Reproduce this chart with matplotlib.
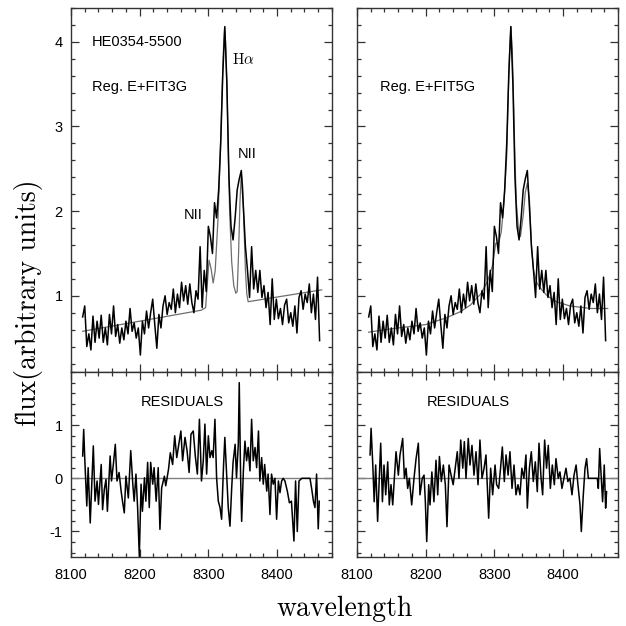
import numpy as np
import matplotlib
matplotlib.use('Agg')
import matplotlib.pyplot as plt
from matplotlib.ticker import MultipleLocator

plt.rcParams['font.family'] = ['Liberation Sans', 'DejaVu Sans']
plt.rcParams['axes.unicode_minus'] = False
plt.rcParams['mathtext.fontset'] = 'cm'

# observed spectrum (same in both top panels), 3 A sampling from 8117
wave = np.arange(8117, 8463, 3)
flux = [0.75, 0.88, 0.40, 0.55, 0.36, 0.76, 0.45, 0.70, 0.50, 0.77,
        0.45, 0.62, 0.42, 0.78, 0.55, 0.88, 0.52, 0.66, 0.44, 0.62,
        0.48, 0.70, 0.55, 0.85, 0.58, 0.68, 0.50, 0.62, 0.30, 0.70,
        0.55, 0.82, 0.62, 0.80, 0.96, 0.66, 0.38, 0.78, 0.62, 0.88,
        1.00, 0.78, 0.92, 0.84, 1.08, 0.80, 1.02, 0.86, 1.16, 0.94,
        1.12, 0.90, 1.14, 0.92, 0.80, 1.06, 0.96, 1.58, 0.86, 1.30,
        1.05, 1.82, 1.70, 1.50, 2.10, 1.92, 2.25, 2.80, 3.62, 4.18,
        3.50, 2.40, 1.82, 1.66, 1.92, 2.25, 2.38, 2.48, 2.05, 1.58,
        1.30, 0.98, 1.58, 1.08, 1.30, 1.04, 1.30, 0.98, 1.12, 0.86,
        1.04, 0.66, 1.20, 0.72, 0.96, 0.73, 0.85, 0.66, 0.89, 0.96,
        0.68, 0.80, 0.64, 0.88, 0.56, 0.98, 1.06, 0.84, 1.02, 0.92,
        1.14, 0.80, 1.02, 0.72, 1.22, 0.47]

# fit with 3 gaussians (left)
fit3_wave = [8117, 8200, 8290, 8296, 8299, 8301, 8304, 8307, 8310, 8314,
             8317, 8320, 8322, 8323.5, 8325, 8327, 8329, 8331, 8334, 8337,
             8340, 8342, 8344, 8346, 8348, 8350, 8352, 8354, 8356, 8358, 8465]
fit3 = [0.58, 0.70, 0.83, 0.86, 1.20, 1.42, 1.32, 1.15, 1.30, 1.90,
        2.60, 3.40, 3.90, 4.15, 4.00, 3.50, 2.70, 2.00, 1.40, 1.12,
        1.03, 1.05, 1.50, 2.10, 2.45, 2.30, 1.80, 1.30, 1.02, 0.93, 1.07]

# fit with 5 gaussians (right)
fit5_wave = [8117, 8150, 8200, 8230, 8250, 8265, 8280, 8290, 8297, 8302,
             8306, 8310, 8314, 8318, 8320, 8322, 8324, 8326, 8328, 8330,
             8332, 8335, 8338, 8342, 8345, 8348, 8351, 8354, 8357, 8362,
             8370, 8377, 8390, 8410, 8440, 8465]
fit5 = [0.57, 0.61, 0.66, 0.74, 0.81, 0.89, 1.02, 1.17, 1.35, 1.62,
        1.62, 1.75, 2.10, 2.65, 3.30, 3.85, 4.18, 3.90, 3.30, 2.60,
        2.10, 1.80, 1.70, 1.95, 2.22, 2.33, 2.15, 1.60, 1.30, 1.15,
        1.06, 1.00, 0.93, 0.88, 0.85, 0.85]

# residuals, left (3G)
res3_wave = [8117, 8118.5, 8120, 8123, 8125, 8128, 8132.5, 8135, 8138, 8140,
             8144, 8146, 8148.5, 8151, 8153, 8157, 8159, 8162, 8164.5, 8167,
             8170, 8173, 8175, 8177.6, 8180, 8183.5, 8187, 8190, 8192, 8194.6,
             8197, 8199.5, 8202, 8204, 8207, 8209, 8211.6, 8214, 8216, 8219,
             8221, 8224, 8227, 8229.5, 8232, 8236, 8238, 8242, 8244.6, 8248,
             8251, 8254, 8257.7, 8260, 8262.5, 8266, 8269, 8272, 8274.7, 8278,
             8281, 8284, 8287, 8290, 8292.6, 8295, 8297.5, 8300, 8302.4, 8305,
             8307, 8309.6, 8312, 8314.5, 8317, 8319.3, 8322, 8324, 8326.6, 8329,
             8331.5, 8334, 8336, 8339, 8341, 8343.6, 8345, 8347, 8348.5, 8351,
             8353.3, 8355.7, 8358, 8360.6, 8363, 8365.4, 8368, 8370.3, 8373, 8375,
             8377.6, 8380, 8382, 8385, 8387, 8389.7, 8392, 8394.5, 8397, 8399.4,
             8402, 8404.3, 8406.7, 8409, 8411.5, 8415, 8418, 8421, 8424.6, 8427,
             8429.5, 8432, 8436, 8448, 8450.5, 8453, 8455.2, 8457.6, 8460, 8461.5]
res3 = [0.42, 0.92, 0.39, -0.52, 0.20, -0.84, 0.61, -0.43, -0.05, -0.49,
        0.26, -0.59, -0.21, -0.02, -0.62, 0.42, -0.05, 0.30, 0.64, -0.05,
        0.11, -0.24, -0.43, -0.65, 0.04, -0.37, 0.52, -0.11, -0.43, 0.08,
        -0.55, -1.47, -0.11, -0.62, 0.01, -0.43, 0.30, -0.55, 0.30, -0.11,
        0.20, -0.43, 0.20, -0.96, -0.18, 0.04, -0.14, 0.17, 0.48, 0.26,
        0.80, 0.39, 0.70, 0.89, 0.33, 0.77, 0.52, 0.11, 0.83, 0.89,
        0.42, 0.08, 1.11, -0.05, 0.33, 1.02, 0.08, 0.80, 0.39, 0.52,
        0.39, 1.11, 0.01, -0.43, -0.55, -0.77, 0.20, 0.77, 0.08, -0.55,
        -0.90, -0.18, 0.30, 0.64, 0.01, 0.64, 1.80, 0.01, -0.81, 0.14,
        0.70, 0.33, 0.58, 0.14, 1.11, 0.33, 0.58, 0.20, 0.89, -0.05,
        0.39, -0.11, 0.26, -0.24, 0.08, -0.68, 0.08, -0.11, 0.00, -0.77,
        -0.05, -0.27, -0.05, 0.00, -0.05, -0.24, -0.46, -0.43, -1.18, -0.05,
        -1.00, -0.05, 0.00, 0.00, -0.20, -0.43, -0.55, 0.08, -0.95, -0.43]

# residuals, right (5G)
res5_wave = [8119, 8120.5, 8123, 8125, 8127.2, 8130, 8132.6, 8134.5, 8137, 8139.3,
             8141.8, 8144.7, 8147, 8149.5, 8152, 8154.4, 8156.8, 8160.2, 8162.6, 8166.5,
             8169, 8171.4, 8173.8, 8176.2, 8179.6, 8183, 8186, 8189.3, 8191.7, 8195,
             8197.6, 8199.5, 8201.5, 8204.4, 8206.3, 8209, 8212, 8215, 8217.5, 8220,
             8222.8, 8225.7, 8228.6, 8231, 8234, 8237, 8240, 8243, 8246, 8248.5,
             8251, 8254, 8256.3, 8258.7, 8262, 8264.5, 8267.4, 8270.3, 8273.3, 8276.2,
             8279, 8282, 8285, 8287.8, 8291.7, 8294.6, 8297.5, 8301, 8303.3, 8306.3,
             8309, 8311.6, 8314.5, 8317, 8320, 8322.7, 8325.7, 8328.6, 8331.5, 8334.4,
             8337.3, 8340, 8343, 8346, 8348, 8351, 8353.8, 8356.7, 8359.6, 8362.5,
             8365, 8368, 8370.3, 8373.2, 8376, 8378.5, 8381.5, 8384.4, 8387.3, 8389.7,
             8393, 8395.5, 8398.4, 8401.3, 8404.3, 8407, 8410, 8413, 8416, 8419,
             8421.7, 8424.7, 8426.6, 8429.5, 8432, 8434.3, 8436.8, 8449.9, 8451.4, 8453.3,
             8455.7, 8457.6, 8460, 8462, 8463.4]
res5 = [0.44, 0.94, 0.25, -0.44, 0.25, -0.81, 0.06, 0.66, -0.44, 0.25,
        -0.31, 0.31, -0.50, -0.12, -0.50, 0.00, 0.50, 0.06, 0.44, 0.75,
        0.00, 0.19, -0.19, 0.00, -0.50, 0.00, 0.37, 0.66, -0.31, 0.00,
        0.06, -0.44, -1.19, -0.12, -0.50, 0.12, -0.44, 0.34, -0.31, 0.41,
        -0.06, 0.25, -0.12, -0.91, 0.25, 0.06, -0.12, 0.19, 0.50, 0.00,
        0.72, 0.19, 0.69, 0.00, 0.75, 0.25, 0.62, 0.06, 0.50, -0.12,
        0.72, 0.00, 0.19, 0.44, -0.75, 0.19, -0.31, 0.25, -0.12, -0.19,
        0.19, 0.59, -0.06, 0.44, 0.06, 0.50, -0.19, 0.25, -0.31, -0.12,
        -0.31, 0.19, 0.00, 0.44, -0.56, 0.19, 0.50, -0.06, 0.31, -0.25,
        0.66, 0.00, -0.31, 0.72, 0.19, 0.62, -0.19, 0.25, -0.12, 0.37,
        0.00, 0.12, -0.19, 0.00, 0.19, -0.06, 0.00, -0.31, 0.06, 0.25,
        -0.12, -0.50, -1.00, -0.31, 0.19, 0.37, 0.00, 0.00, -0.19, 0.56,
        0.00, -0.44, 0.25, -0.56, -0.25]

FIT_GREY = '#6e6e6e'


def setup_axis(ax, top, show_x, show_y):
    ax.set_xlim(8100, 8480)
    ax.xaxis.set_major_locator(MultipleLocator(100))
    ax.xaxis.set_minor_locator(MultipleLocator(20))
    if top:
        ax.set_ylim(0.1, 4.4)
        ax.set_yticks([1, 2, 3, 4])
    else:
        ax.set_ylim(-1.48, 2.0)
        ax.set_yticks([-1, 0, 1])
    ax.yaxis.set_minor_locator(MultipleLocator(0.2))
    ax.tick_params(which='both', direction='in', top=True, right=True,
                   labelsize=10.5, width=0.9, color='#333333')
    ax.tick_params(which='major', length=6)
    ax.tick_params(which='minor', length=3)
    ax.tick_params(axis='x', pad=8)
    ax.tick_params(axis='y', pad=6)
    ax.tick_params(labelbottom=show_x, labelleft=show_y)
    for s in ax.spines.values():
        s.set_linewidth(1.0)
        s.set_color('#333333')


fig = plt.figure(figsize=(6.26, 6.26), dpi=100)
ax_tl = fig.add_axes([0.1134, 0.4058, 0.4169, 0.5815])
ax_bl = fig.add_axes([0.1134, 0.1102, 0.4169, 0.2956])
ax_tr = fig.add_axes([0.5703, 0.4058, 0.4169, 0.5815])
ax_br = fig.add_axes([0.5703, 0.1102, 0.4169, 0.2956])

# top panels: data + fit
ax_tl.plot(fit3_wave, fit3, color=FIT_GREY, lw=0.9)
ax_tl.plot(wave, flux, color='black', lw=1.1)
ax_tr.plot(fit5_wave, fit5, color=FIT_GREY, lw=0.9)
ax_tr.plot(wave, flux, color='black', lw=1.1)

# bottom panels: residuals
for ax, rw, r in [(ax_bl, res3_wave, res3), (ax_br, res5_wave, res5)]:
    ax.axhline(0, color='#808080', lw=1.0)
    ax.plot(rw, r, color='black', lw=1.1)
    ax.text(8262, 1.43, 'RESIDUALS', ha='center', va='center', fontsize=10.5)

setup_axis(ax_tl, True, False, True)
setup_axis(ax_tr, True, False, False)
setup_axis(ax_bl, False, True, True)
setup_axis(ax_br, False, True, False)

ax_tl.text(8130, 4.0, 'HE0354-5500', ha='left', va='center', fontsize=10.5)
ax_tl.text(8130, 3.47, 'Reg. E+FIT3G', ha='left', va='center', fontsize=10.5)
ax_tl.text(8334, 3.79, r'$\mathrm{H}\alpha$', ha='left', va='center', fontsize=11)
ax_tl.text(8343, 2.67, 'NII', ha='left', va='center', fontsize=10.5)
ax_tl.text(8264, 1.96, 'NII', ha='left', va='center', fontsize=10.5)
ax_tr.text(8133, 3.47, 'Reg. E+FIT5G', ha='left', va='center', fontsize=10.5)

fig.text(0.045, 0.517, 'flux(arbitrary units)', rotation=90, ha='center',
         va='center', fontsize=20, fontfamily='cmr10')
fig.text(0.551, 0.028, 'wavelength', ha='center', va='center',
         fontsize=20, fontfamily='cmr10')

plt.savefig('out.png', dpi=100)
